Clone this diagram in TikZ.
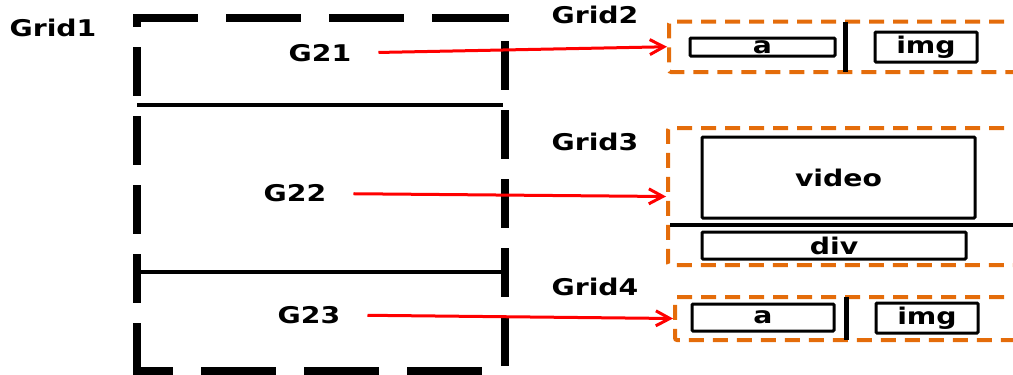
\documentclass[tikz,border=0pt]{standalone}
\usepackage{fontspec}
\setmainfont{DejaVu Sans}[FakeStretch=1.23]
\usetikzlibrary{arrows.meta}
\definecolor{GridOrange}{HTML}{E46C0A}
\definecolor{ArrowRed}{HTML}{FF0000}

\begin{document}
\begin{tikzpicture}[
  x=1pt, y=-1pt,
  lbl/.style={font=\bfseries\fontsize{23}{26}\selectfont, inner sep=0pt},
  cell/.style={draw, line width=3pt, rounded corners=1pt, inner sep=0pt, font=\bfseries\fontsize{23}{26}\selectfont},
  obox/.style={draw=GridOrange, line width=4pt, dash pattern=on 15pt off 9pt, rounded corners=2pt, inner sep=0pt},
  frame/.style={line width=8pt},
  arr/.style={-{Straight Barb[length=14pt,width=15pt]}, line width=3pt, ArrowRed, shorten <=27pt}
]
\clip (0,0) rectangle (1013,375);
\foreach \x/\l in {133/65,226/75,329/75,432/77} \draw[frame] (\x,18) -- ++(\l,0);
\foreach \x/\l in {133/40,201/75,304/75,407/75} \draw[frame] (\x,371) -- ++(\l,0);
\foreach \y/\l in {18/9,47/49,116/49,185/49,254/49,323/48} \draw[frame] (137,\y) -- ++(0,\l);
\foreach \y in {41,110,179,248,317} \draw[frame] (505,\y) -- ++(0,49);
\draw[line width=3.5pt] (137,105) -- (503,105);
\draw[line width=3.5pt] (137,272) -- (505,272);
\node[lbl] (grid1) at (53,28) {Grid1};
\node[lbl] (g21) at (320,53) {G21};
\node[lbl] (g22) at (295,193.5) {G22};
\node[lbl] (g23) at (309,315) {G23};

\node[lbl] (grid2) at (595,15) {Grid2};
\node[obox, minimum width=361pt, minimum height=50.5pt] (g2box) at (849.5,46.75) {};
\node[cell, minimum width=145pt, minimum height=18pt] (g2a) at (762.5,47) {a};
\draw[line width=5pt] (845,22) -- (845,72);
\node[cell, minimum width=102pt, minimum height=30pt] (g2img) at (926,47) {img};

\node[lbl] (grid3) at (595,142) {Grid3};
\node[obox, minimum width=362pt, minimum height=137pt] (g3box) at (849,196.5) {};
\node[cell, minimum width=273pt, minimum height=81pt] (g3video) at (838.5,177.5) {video};
\draw[line width=3.5pt] (670,225) -- (1030,225);
\node[cell, minimum width=264pt, minimum height=27pt] (g3div) at (834,245.5) {div};

\node[lbl] (grid4) at (595,287) {Grid4};
\node[obox, minimum width=355pt, minimum height=43pt] (g4box) at (852.5,318.5) {};
\node[cell, minimum width=142pt, minimum height=27pt] (g4a) at (763,317.5) {a};
\draw[line width=5pt] (846,297) -- (846,340);
\node[cell, minimum width=102pt, minimum height=30pt] (g4img) at (927,318) {img};

\draw[arr] (g21.east) -- (g2box.west);
\draw[arr] (g22.east) -- (g3box.west);
\draw[arr] (g23.east) -- (g4box.west);
\end{tikzpicture}
\end{document}
